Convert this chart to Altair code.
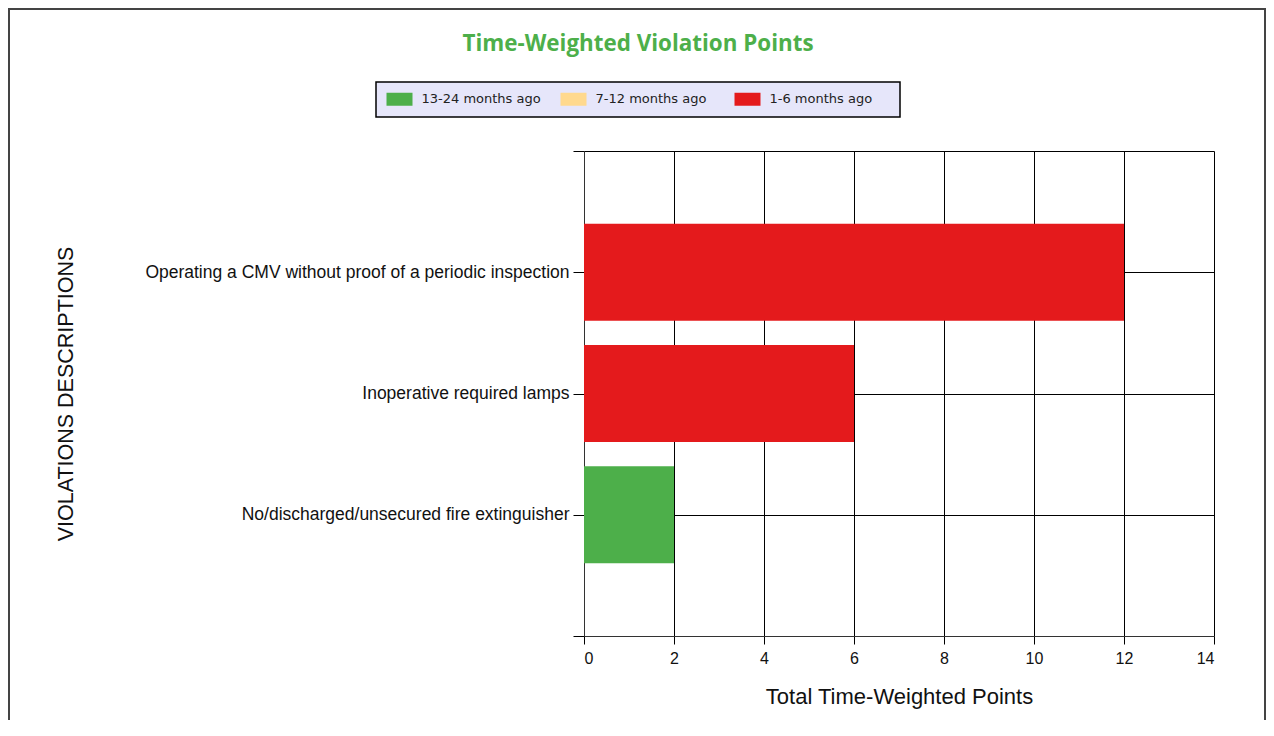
import altair as alt
import pandas as pd

# ---- data ----
violations = [
    "Operating a CMV without proof of a periodic inspection",
    "Inoperative required lamps",
    "No/discharged/unsecured fire extinguisher",
]
periods = ["13-24 months ago", "7-12 months ago", "1-6 months ago"]
pts_13_24 = [0, 0, 2]
pts_7_12 = [0, 0, 0]
pts_1_6 = [12, 6, 0]
colors = ["#4DAF4A", "#FFD98E", "#E41A1C"]
x_ticks = [0, 2, 4, 6, 8, 10, 12, 14]

rows = []
for i, v in enumerate(violations):
    for p, series in zip(periods, [pts_13_24, pts_7_12, pts_1_6]):
        rows.append({"pos": i + 1, "violation": v, "period": p,
                     "order": periods.index(p), "points": series[i]})
df = pd.DataFrame(rows)

label_expr = " : ".join(
    [f"datum.value == {i+1} ? '{v}'" for i, v in enumerate(violations)]
) + " : ''"

AX_FONT = "Liberation Sans"

bars = alt.Chart(df).mark_bar(orient="horizontal", size=97, opacity=1).encode(
    x=alt.X("points:Q", stack="zero",
            scale=alt.Scale(domain=[0, 14], nice=False, padding=0),
            axis=alt.Axis(values=x_ticks, title="Total Time-Weighted Points",
                          grid=True, gridColor="#000000", gridOpacity=1,
                          tickSize=8, tickColor="#000000", domainColor="#333333",
                          labelFont=AX_FONT, labelFontSize=16, labelColor="#111111",
                          labelPadding=6,
                          titleFont=AX_FONT, titleFontSize=22, titleFontWeight="normal",
                          titleColor="#111111", titlePadding=20)),
    y=alt.Y("pos:Q",
            scale=alt.Scale(domain=[0, 4], reverse=True, nice=False, zero=False, padding=0),
            axis=alt.Axis(values=[0, 1, 2, 3, 4], labelExpr=label_expr,
                          title="VIOLATIONS DESCRIPTIONS",
                          grid=True, gridColor="#000000", gridOpacity=1,
                          tickSize=11, tickColor="#000000", domainColor="#333333",
                          labelFont=AX_FONT, labelFontSize=17.5, labelColor="#111111",
                          labelPadding=4, labelLimit=600,
                          titleFont=AX_FONT, titleFontSize=21.5, titleFontWeight="normal",
                          titleColor="#111111", titleX=-507)),
    color=alt.Color("period:N",
                    scale=alt.Scale(domain=periods, range=colors),
                    legend=alt.Legend(title=None, orient="none", direction="horizontal",
                                      legendX=-208, legendY=-69,
                                      padding=10.5, columnPadding=19, gridAlign="all",
                                      symbolType="M-1,-1H3V1H-1Z", symbolSize=169,
                                      symbolStrokeWidth=0, symbolOpacity=1,
                                      labelFont="DejaVu Sans", labelFontSize=13,
                                      labelColor="#222222", labelOffset=22)),
    order=alt.Order("order:Q"),
)

# legend box background (decoration)
legend_box = alt.Chart(pd.DataFrame({"a": [0]})).mark_rect(
    fill="#E6E6FA", stroke="#000000", strokeWidth=1.5
).encode(
    x=alt.value(-208), x2=alt.value(316), y=alt.value(-69), y2=alt.value(-34)
)

# outer frame (decoration)
border = alt.Chart(pd.DataFrame({"a": [0]})).mark_rect(
    fillOpacity=0, stroke="#444444", strokeWidth=2
).encode(
    x=alt.value(-575), x2=alt.value(681), y=alt.value(-142), y2=alt.value(700)
)

chart = alt.layer(legend_box, bars, border).properties(
    width=630, height=485,
    autosize=alt.AutoSizeParams(type="none"),
    padding={"left": 576, "top": 143, "right": 52, "bottom": 84},
    title=alt.Title("Time-Weighted Violation Points", font="Open Sans", fontSize=22.4,
                    fontWeight="bold", color="#4DAF4A", anchor="middle",
                    frame="group", dx=-261, offset=-47),
).configure_view(stroke=None)

chart.save("out.html", embed_options={"renderer": "svg", "actions": False})
